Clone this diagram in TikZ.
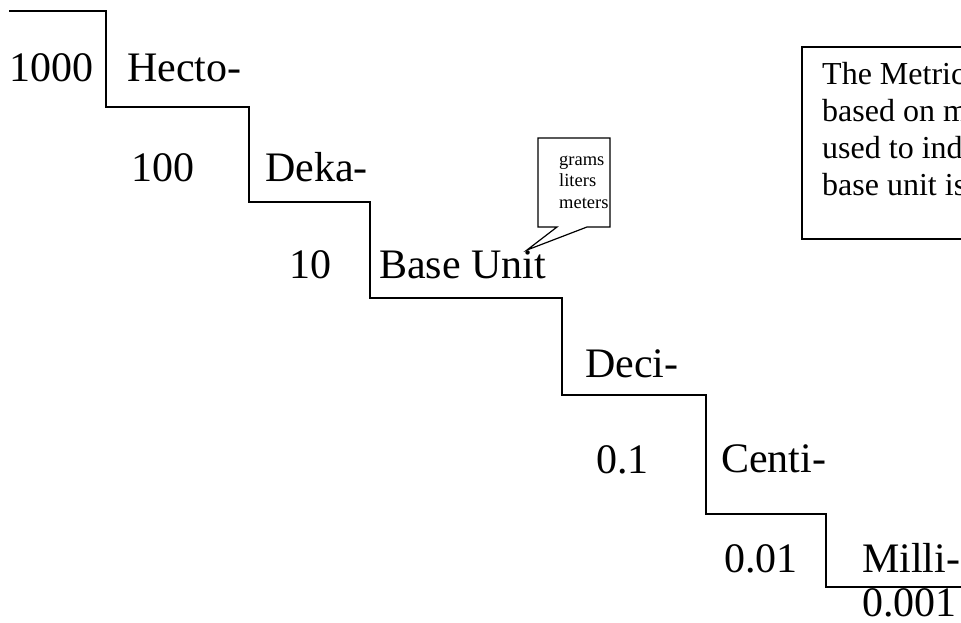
\documentclass[tikz,border=0pt]{standalone}
\usepackage{fontspec}
\setmainfont{Liberation Serif}
\begin{document}
\begin{tikzpicture}[x=1pt,y=-1pt,
  lbl/.style={anchor=base west, inner sep=0pt, font=\fontsize{42}{50}\selectfont},
  line/.style={draw=black, line width=1.5pt},
  note/.style={anchor=base west, inner sep=0pt, align=left, font=\fontsize{32}{36.7}\selectfont},
  small/.style={anchor=base west, inner sep=0pt, align=left, font=\fontsize{18.5}{21.5}\selectfont}]
\useasboundingbox (0,0) rectangle (961,623);
\clip (0,0) rectangle (961,623);
% staircase
\draw[line] (9,11) -- (106,11) -- (106,107) -- (249,107) -- (249,202) -- (370,202)
  -- (370,298) -- (562,298) -- (562,395) -- (706,395) -- (706,514) -- (826,514)
  -- (826,587) -- (975,587);
% labels
\node[lbl] (n1000) at (9,82) {1000};
\node[lbl] (hecto) at (127,82) {Hecto-};
\node[lbl] (n100) at (131,182) {100};
\node[lbl] (deka) at (265,182) {Deka-};
\node[lbl] (n10) at (289,278) {10};
\node[lbl] (base) at (379,278) {Base Unit};
\node[lbl] (deci) at (585,377) {Deci-};
\node[lbl] (n01) at (596,473) {0.1};
\node[lbl] (centi) at (721,472) {Centi-};
\node[lbl] (n001) at (724,572) {0.01};
\node[lbl] (milli) at (862,572) {Milli-};
\node[lbl] (n0001) at (862,616) {0.001};
% callout
\draw[line, line width=1.2pt, fill=white] (538,138) -- (610,138) -- (610,227) -- (587,227)
  -- (527,250) -- (557,227) -- (538,227) -- cycle;
\node[small] (units) at (559,208) {grams\\liters\\meters};
% info box
\draw[line] (802,47) rectangle (985,239);
\node[note] (info) at (822,195) {The Metric\\based on m\\used to ind\\base unit is};
\end{tikzpicture}
\end{document}
